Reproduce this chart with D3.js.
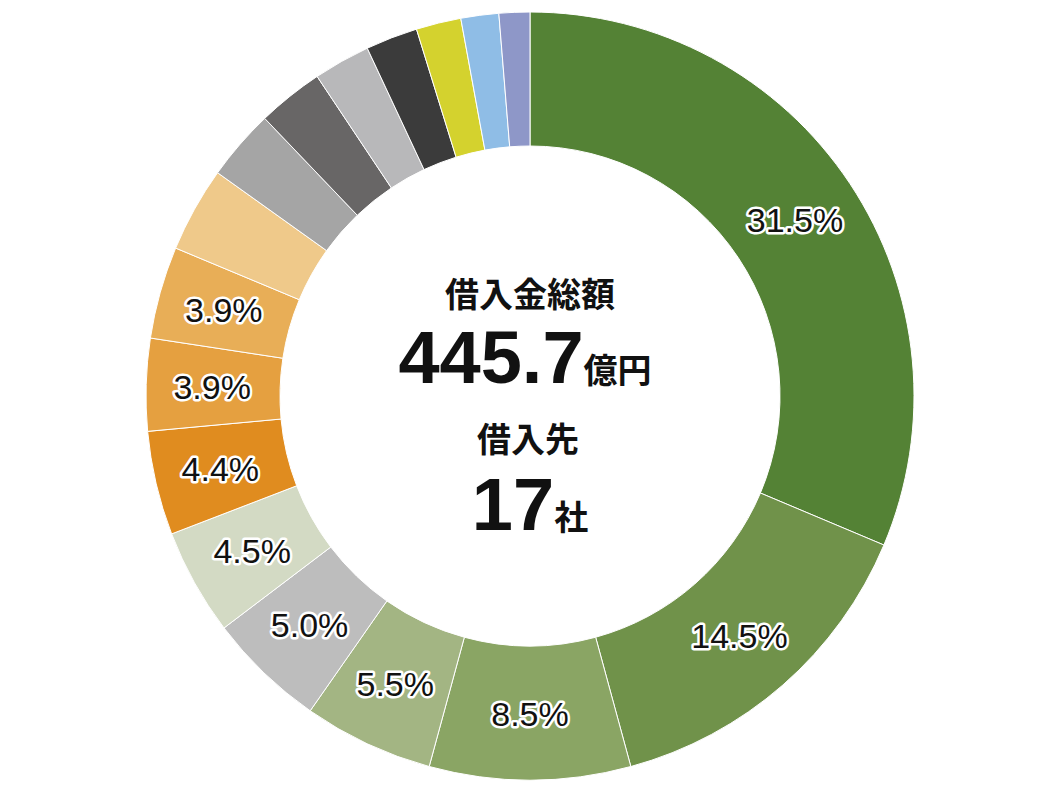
<!DOCTYPE html>
<html lang="ja">
<head>
<meta charset="UTF-8">
<script src="https://d3js.org/d3.v7.min.js"></script>
<style>
  body { margin: 0; background: #fff; }
  svg text { font-family: "Liberation Sans", "Noto Sans CJK JP", sans-serif; }
  .jp { font-family: "Noto Sans CJK JP", sans-serif; font-weight: 700; }
</style>
</head>
<body>
<svg width="1060" height="792"></svg>
<script>
// shares of borrowings by lender (%)
const values = [31.5, 14.5, 8.5, 5.5, 5.0, 4.5, 4.4, 3.9, 3.9, 3.6, 3.0, 2.8, 2.4, 2.2, 1.9, 1.6, 1.3];
const labels = ["31.5%", "14.5%", "8.5%", "5.5%", "5.0%", "4.5%", "4.4%", "3.9%", "3.9%", "", "", "", "", "", "", "", ""];
const colors = ["#548235", "#70924a", "#8aa564", "#a3b583", "#bdbdbd", "#d3dac4", "#e08c1f", "#e5a040",
                "#e8ae57", "#efc98a", "#a5a5a5", "#686666", "#b8b8ba", "#3b3b3b", "#d4d22e", "#8fbde6", "#8e97c8"];

const svg = d3.select("svg");
const g = svg.append("g").attr("transform", "translate(530,396)");

const pie = d3.pie().sort(null).value(d => d);
const arc = d3.arc().innerRadius(250).outerRadius(384);
const labelArc = d3.arc().innerRadius(318).outerRadius(318);
const arcs = pie(values);

g.selectAll("path")
  .data(arcs)
  .enter().append("path")
  .attr("d", arc)
  .attr("fill", (d, i) => colors[i])
  .attr("stroke", "#fff")
  .attr("stroke-width", 1);

g.selectAll("text.lbl")
  .data(arcs.filter((d, i) => labels[i]))
  .enter().append("text")
  .attr("class", "lbl")
  .attr("transform", d => `translate(${labelArc.centroid(d)})`)
  .attr("text-anchor", "middle")
  .attr("dy", "0.36em")
  .attr("font-size", 34)
  .attr("stroke", "#fff")
  .attr("stroke-width", 5)
  .attr("stroke-linejoin", "round")
  .attr("paint-order", "stroke")
  .attr("fill", "#111")
  .text(d => labels[d.index]);

// centre text
const c = svg.append("g").attr("text-anchor", "middle").attr("fill", "#111");
c.append("text").attr("class", "jp").attr("x", 530).attr("y", 307).attr("font-size", 34).text("借入金総額");
const t1 = c.append("text").attr("x", 525).attr("y", 383);
t1.append("tspan").attr("font-size", 74).attr("font-weight", 700).text("445.7");
t1.append("tspan").attr("class", "jp").attr("font-size", 34).text("億円");
c.append("text").attr("class", "jp").attr("x", 528).attr("y", 452).attr("font-size", 34).text("借入先");
const t2 = c.append("text").attr("x", 530).attr("y", 530);
t2.append("tspan").attr("font-size", 74).attr("font-weight", 700).text("17");
t2.append("tspan").attr("class", "jp").attr("font-size", 34).text("社");
</script>
</body>
</html>
